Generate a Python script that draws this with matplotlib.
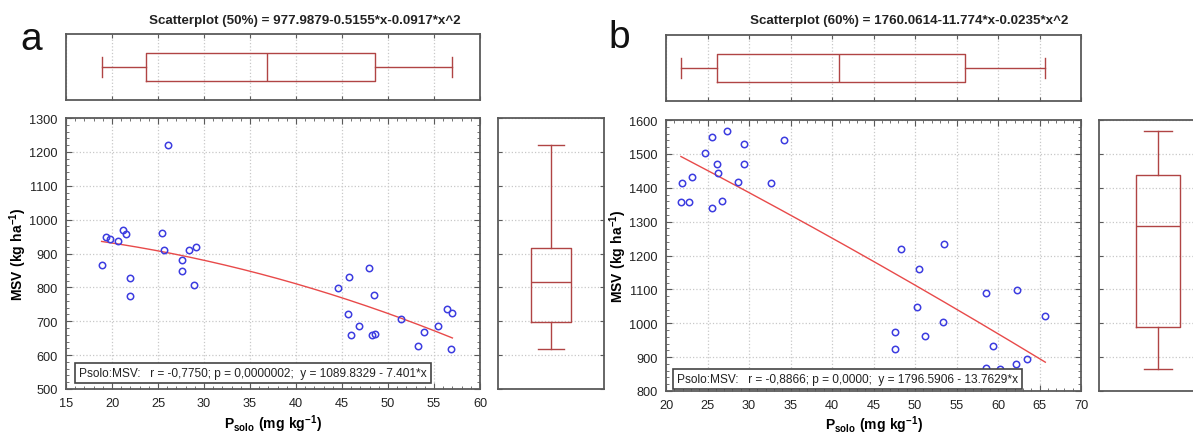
import matplotlib
matplotlib.use('Agg')
import matplotlib.pyplot as plt
import numpy as np
from matplotlib.ticker import AutoMinorLocator, MultipleLocator

plt.rcParams['font.family'] = ['Liberation Sans', 'DejaVu Sans']
plt.rcParams['mathtext.fontset'] = 'custom'
plt.rcParams['mathtext.rm'] = 'Liberation Sans'
plt.rcParams['mathtext.bf'] = 'Liberation Sans:bold'

# panel a (50%)
psolo_a = [18.87, 19.3, 19.8, 20.6, 21.2, 21.5, 22.0, 22.0, 25.45, 25.7, 26.1,
           27.6, 27.65, 28.4, 28.95, 29.1, 44.6, 45.6, 45.8, 46.0, 46.9, 47.9,
           48.3, 48.5, 48.6, 51.4, 53.3, 53.9, 55.4, 56.4, 56.8, 57.0]
msv_a = [867, 949, 944, 937, 968, 958, 828, 774, 961, 910, 1220,
         881, 847, 911, 806, 920, 799, 722, 832, 660, 685, 858,
         660, 777, 662, 708, 627, 669, 685, 736, 617, 725]
coef_a = [-0.0917, -0.5155, 977.9879]
title_a = 'Scatterplot (50%) = 977.9879-0.5155*x-0.0917*x^2'
stat_a = 'Psolo:MSV:   r = -0,7750; p = 0,0000002;  y = 1089.8329 - 7.401*x'

# panel b (60%)
psolo_b = [21.8, 21.9, 22.8, 23.1, 24.7, 25.5, 25.6, 26.1, 26.3, 26.8, 27.4,
           28.7, 29.4, 29.4, 32.6, 34.2, 47.6, 47.6, 48.3, 50.3, 50.5, 51.2,
           53.4, 53.5, 58.6, 58.6, 59.4, 60.2, 62.2, 62.3, 63.5, 65.7]
msv_b = [1358, 1413, 1358, 1432, 1503, 1549, 1341, 1471, 1445, 1360, 1568,
         1417, 1530, 1471, 1413, 1541, 973, 925, 1219, 1049, 1160, 962,
         1004, 1234, 1088, 869, 932, 866, 880, 1099, 893, 1021]
coef_b = [-0.0235, -11.774, 1760.0614]
title_b = 'Scatterplot (60%) = 1760.0614-11.774*x-0.0235*x^2'
stat_b = 'Psolo:MSV:   r = -0,8866; p = 0,0000;  y = 1796.5906 - 13.7629*x'

W, H = 1193, 435
fig = plt.figure(figsize=(W / 100, H / 100), dpi=100)

FRAME = '#5a5a5a'
BOXC = '#b04444'
GRIDC = '#c8c8c8'


def px_axes(x0, y0, x1, y1):
    return fig.add_axes([x0 / W, 1 - y1 / H, (x1 - x0) / W, (y1 - y0) / H])


def frame(ax):
    for s in ax.spines.values():
        s.set_color(FRAME)
        s.set_linewidth(1.3)


def box_stats(v):
    v = np.asarray(v, dtype=float)
    q1, med, q3 = np.percentile(v, [25, 50, 75], method='midpoint')
    return dict(med=med, q1=q1, q3=q3, whislo=v.min(), whishi=v.max(), fliers=[])


def panel(x, y, coef, xlim, ylim, title, stat, letter, main_px, top_px, right_px,
          stat_pos, title_x, xlab_y):
    ax = px_axes(*main_px)
    top = px_axes(*top_px)
    rgt = px_axes(*right_px)

    # scatter + quadratic fit
    ax.plot(x, y, 'o', mfc='none', mec='#3c3ce0', ms=4.6, mew=1.1, zorder=3)
    xs = np.linspace(min(x), max(x), 200)
    ax.plot(xs, np.polyval(coef, xs), color='#e84a4a', lw=1.0, zorder=2)
    ax.set_xlim(*xlim)
    ax.set_ylim(*ylim)
    ax.xaxis.set_major_locator(MultipleLocator(5))
    ax.yaxis.set_major_locator(MultipleLocator(100))
    ax.xaxis.set_minor_locator(AutoMinorLocator(5))
    ax.yaxis.set_minor_locator(AutoMinorLocator(5))
    ax.tick_params(which='both', direction='in', top=True, right=True,
                   colors=FRAME, labelcolor='#222222', labelsize=9.2)
    ax.tick_params(which='major', length=4, pad=6)
    ax.tick_params(which='minor', length=2)
    ax.grid(True, which='major', ls=':', color=GRIDC, lw=0.9)
    frame(ax)
    ax.set_xlabel(r'$\mathbf{P_{solo}\ (mg\ kg^{-1})}$', fontsize=10)
    ax.set_ylabel(r'$\mathbf{MSV\ (kg\ ha^{-1})}$', fontsize=10)
    ax.xaxis.set_label_coords(0.5, xlab_y)
    ax.yaxis.set_label_coords(-0.09, 0.5)
    ax.text(stat_pos[0], stat_pos[1], stat, transform=ax.transAxes, fontsize=8.6,
            va='center', ha='left', color='#222222', zorder=4,
            bbox=dict(boxstyle='square,pad=0.35', fc='white', ec='#444444', lw=1.2))

    # top boxplot of x
    top.bxp([box_stats(x)], positions=[0.5], widths=0.42, capwidths=0.3,
            orientation='horizontal', showfliers=False,
            boxprops=dict(color=BOXC, lw=1.0), medianprops=dict(color=BOXC, lw=1.0),
            whiskerprops=dict(color=BOXC, lw=1.0), capprops=dict(color=BOXC, lw=1.0))
    top.set_xlim(*xlim)
    top.set_ylim(0, 1)
    top.xaxis.set_major_locator(MultipleLocator(5))
    top.set_yticks([])
    top.tick_params(axis='x', direction='in', top=True, bottom=True, length=3,
                    labelbottom=False, colors=FRAME)
    top.grid(True, axis='x', ls=':', color=GRIDC, lw=0.9)
    frame(top)

    # right boxplot of y
    rgt.bxp([box_stats(y)], positions=[0.5], widths=0.38, capwidths=0.24,
            orientation='vertical', showfliers=False,
            boxprops=dict(color=BOXC, lw=1.0), medianprops=dict(color=BOXC, lw=1.0),
            whiskerprops=dict(color=BOXC, lw=1.0), capprops=dict(color=BOXC, lw=1.0))
    rgt.set_ylim(*ylim)
    rgt.set_xlim(0, 1)
    rgt.yaxis.set_major_locator(MultipleLocator(100))
    rgt.set_xticks([])
    rgt.tick_params(axis='y', direction='in', left=True, right=True, length=3,
                    labelleft=False, colors=FRAME)
    rgt.grid(True, axis='y', ls=':', color=GRIDC, lw=0.9)
    frame(rgt)

    fig.text(title_x / W, 1 - 21 / H, title, ha='center', va='center',
             fontsize=9.6, fontweight='bold', color='#222222')
    fig.text(letter[1] / W, 1 - letter[2] / H, letter[0], ha='left', va='baseline',
             fontsize=28, color='#111111')


panel(psolo_a, msv_a, coef_a, (15, 60), (500, 1300), title_a, stat_a, ('a', 20, 50),
      (66, 119, 480, 390), (66, 35, 480, 101), (498, 119, 604, 390),
      (0.031, 0.059), 305, -0.085)
panel(psolo_b, msv_b, coef_b, (20, 70), (800, 1600), title_b, stat_b, ('b', 608, 48),
      (666, 121, 1081, 392), (666, 36, 1081, 102), (1099, 121, 1217, 392),
      (0.026, 0.044), 909, -0.082)

fig.savefig('out.png', dpi=100)
